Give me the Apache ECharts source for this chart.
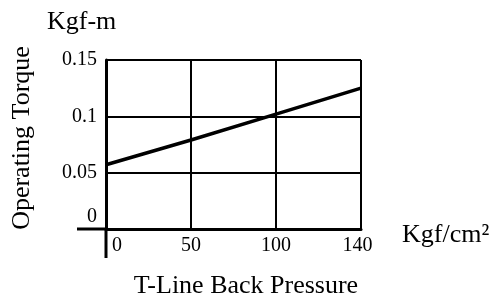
<!DOCTYPE html>
<html>
<head>
<meta charset="utf-8">
<style>
  html, body { margin: 0; padding: 0; background: #fff; }
  #main { width: 490px; height: 302px; }
</style>
<script src="https://cdn.jsdelivr.net/npm/echarts@6/dist/echarts.min.js"></script>
</head>
<body>
<div id="main"></div>
<script>
// pressure ticks (evenly spaced in the original drawing)
var pressures = ['0', '50', '100', '140'];
// operating torque, Kgf-m
var torque = [0.057, 0.079, 0.102, 0.125];
var yTicks = { min: 0, max: 0.15, step: 0.05 };

var FONT = 'Liberation Serif';

var chart = echarts.init(document.getElementById('main'), null, { renderer: 'canvas' });

function buildOption() {
  return {
    animation: false,
    backgroundColor: '#fff',
    grid: { left: 106, right: 129, top: 60, bottom: 73 },
    xAxis: {
      type: 'category',
      boundaryGap: false,
      data: pressures,
      axisLine: { lineStyle: { color: '#000', width: 3 } },
      axisTick: { show: false },
      splitLine: { show: true, interval: 0, lineStyle: { color: '#000', width: 2 } },
      axisLabel: {
        interval: 0,
        color: '#000',
        fontFamily: FONT,
        fontSize: 20,
        margin: 7,
        formatter: function (v, i) {
          if (i === 0) return '{first|' + v + '}';
          if (i === pressures.length - 1) return '{last|' + v + '}';
          return v;
        },
        rich: {
          first: { fontFamily: FONT, fontSize: 20, color: '#000', padding: [0, 0, 0, 22] },
          last: { fontFamily: FONT, fontSize: 20, color: '#000', padding: [0, 7, 0, 0] }
        }
      }
    },
    yAxis: {
      type: 'value',
      min: yTicks.min,
      max: yTicks.max,
      interval: yTicks.step,
      axisLine: { show: true, lineStyle: { color: '#000', width: 3 } },
      axisTick: { show: false },
      splitLine: { show: true, lineStyle: { color: '#000', width: 2 } },
      axisLabel: {
        color: '#000',
        fontFamily: FONT,
        fontSize: 20,
        margin: 9,
        formatter: function (v) {
          return v === 0 ? '{z|0}' : String(v);
        },
        rich: {
          z: { fontFamily: FONT, fontSize: 20, color: '#000', padding: [0, 0, 24, 0] }
        }
      }
    },
    series: [{
      type: 'line',
      data: torque,
      symbol: 'none',
      lineStyle: { color: '#000', width: 3.5 },
      z: 5
    }]
  };
}

chart.setOption(buildOption());

// axis lines in the original cross each other and run past the origin
var origin = chart.convertToPixel({ gridIndex: 0 }, [0, 0]);
var ext = 29;
var textStyle = { fill: '#000', fontFamily: FONT, fontSize: 26 };

chart.setOption({
  graphic: [
    { type: 'line', shape: { x1: origin[0] - ext, y1: origin[1], x2: origin[0], y2: origin[1] },
      style: { stroke: '#000', lineWidth: 3 }, z: 10 },
    { type: 'line', shape: { x1: origin[0], y1: origin[1], x2: origin[0], y2: origin[1] + ext },
      style: { stroke: '#000', lineWidth: 3 }, z: 10 },
    { type: 'text', left: 47, top: 9, style: Object.assign({ text: 'Kgf-m' }, textStyle) },
    { type: 'text', left: 402, top: 222, style: Object.assign({ text: 'Kgf/cm²' }, textStyle) },
    { type: 'text', x: 246, y: 286, style: Object.assign({ text: 'T-Line Back Pressure', align: 'center', verticalAlign: 'middle' }, textStyle) },
    { type: 'text', x: 22, y: 138, rotation: Math.PI / 2,
      style: Object.assign({ text: 'Operating Torque', align: 'center', verticalAlign: 'middle' }, textStyle) }
  ]
});
</script>
</body>
</html>
